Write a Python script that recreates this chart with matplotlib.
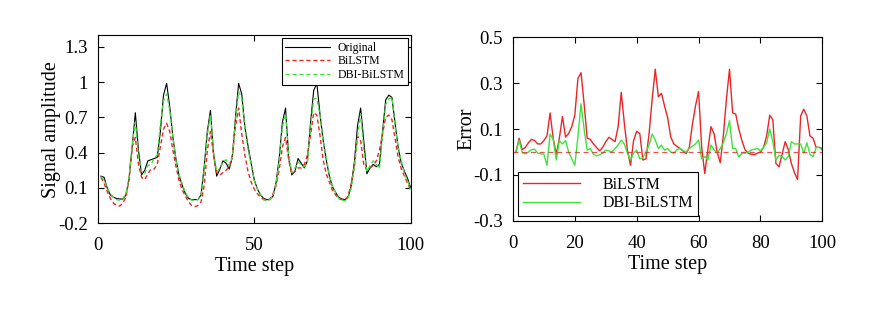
import matplotlib
matplotlib.use("Agg")
import matplotlib.pyplot as plt
import numpy as np

plt.rcParams["font.family"] = ["Liberation Serif", "DejaVu Serif"]
plt.rcParams["axes.unicode_minus"] = False

# %% Dane
steps = np.arange(1, 101)

original = [
    0.20, 0.19, 0.10, 0.04, 0.02, 0.01, 0.005, 0.005, 0.04, 0.18,
    0.45, 0.74, 0.42, 0.21, 0.25, 0.33, 0.34, 0.35, 0.36, 0.58,
    0.89, 0.99, 0.79, 0.53, 0.34, 0.20, 0.12, 0.05, 0.01, 0.0,
    0.0, 0.0, 0.04, 0.28, 0.58, 0.76, 0.39, 0.20, 0.26, 0.33,
    0.31, 0.26, 0.36, 0.70, 0.99, 0.90, 0.62, 0.46, 0.31, 0.17,
    0.09, 0.04, 0.01, 0.0, 0.0, 0.03, 0.15, 0.36, 0.66, 0.78,
    0.36, 0.21, 0.24, 0.35, 0.31, 0.27, 0.33, 0.66, 0.93, 0.99,
    0.73, 0.51, 0.34, 0.20, 0.11, 0.06, 0.02, 0.005, 0.0, 0.02,
    0.12, 0.32, 0.63, 0.78, 0.50, 0.22, 0.27, 0.30, 0.28, 0.30,
    0.58, 0.85, 0.89, 0.87, 0.65, 0.44, 0.31, 0.24, 0.18, 0.10,
]
bilstm = [
    0.19, 0.14, 0.07, 0.01, -0.03, -0.05, -0.055, -0.03, 0.02, 0.18,
    0.45, 0.53, 0.30, 0.19, 0.17, 0.22, 0.26, 0.26, 0.30, 0.45,
    0.60, 0.65, 0.58, 0.42, 0.28, 0.16, 0.08, 0.03, -0.02, -0.05,
    -0.06, -0.05, -0.02, 0.12, 0.42, 0.58, 0.38, 0.23, 0.21, 0.23,
    0.25, 0.28, 0.38, 0.62, 0.78, 0.56, 0.38, 0.24, 0.15, 0.09,
    0.05, 0.02, 0.0, -0.005, 0.005, 0.05, 0.12, 0.26, 0.45, 0.53,
    0.34, 0.22, 0.24, 0.27, 0.27, 0.30, 0.38, 0.55, 0.74, 0.72,
    0.55, 0.34, 0.22, 0.15, 0.08, 0.04, 0.01, 0.0, 0.0, 0.03,
    0.14, 0.28, 0.54, 0.50, 0.30, 0.25, 0.27, 0.29, 0.33, 0.42,
    0.56, 0.70, 0.72, 0.68, 0.52, 0.36, 0.26, 0.20, 0.14, 0.08,
]
dbi_bilstm = [
    0.195, 0.17, 0.10, 0.05, 0.02, 0.0, -0.005, 0.01, 0.05, 0.19,
    0.47, 0.66, 0.37, 0.24, 0.22, 0.29, 0.30, 0.35, 0.38, 0.64,
    0.84, 0.90, 0.76, 0.53, 0.33, 0.21, 0.13, 0.06, 0.015, -0.005,
    -0.005, 0.0, 0.03, 0.25, 0.55, 0.72, 0.40, 0.23, 0.27, 0.32,
    0.34, 0.29, 0.36, 0.67, 0.92, 0.86, 0.61, 0.43, 0.30, 0.16,
    0.09, 0.045, 0.0, -0.01, 0.0, 0.03, 0.14, 0.34, 0.62, 0.73,
    0.39, 0.23, 0.27, 0.32, 0.30, 0.28, 0.32, 0.62, 0.86, 0.86,
    0.72, 0.50, 0.36, 0.21, 0.11, 0.06, 0.01, -0.005, -0.01, 0.015,
    0.10, 0.28, 0.54, 0.73, 0.43, 0.24, 0.29, 0.33, 0.30, 0.26,
    0.55, 0.81, 0.86, 0.87, 0.62, 0.45, 0.33, 0.22, 0.16, 0.09,
]

err_bilstm = [
    0.00, 0.06, 0.01, 0.02, 0.04, 0.055, 0.05, 0.035, 0.035, 0.05,
    0.07, 0.17, 0.06, -0.01, 0.06, 0.155, 0.065, 0.08, 0.11, 0.16,
    0.32, 0.345, 0.21, 0.06, 0.055, 0.035, 0.02, 0.005, 0.02, 0.045,
    0.064, 0.055, 0.045, 0.11, 0.26, 0.125, 0.008, -0.058, 0.05, 0.09,
    0.08, -0.035, -0.03, 0.08, 0.23, 0.36, 0.24, 0.255, 0.20, 0.15,
    0.065, 0.035, 0.025, 0.015, 0.005, -0.007, 0.02, 0.12, 0.20, 0.263,
    0.02, -0.094, 0.01, 0.11, 0.08, 0.0, -0.047, 0.07, 0.23, 0.36,
    0.17, 0.165, 0.10, 0.05, 0.01, -0.005, -0.01, -0.012, -0.005, 0.0,
    0.02, 0.07, 0.16, 0.14, -0.05, -0.065, -0.01, 0.045, 0.01, -0.05,
    -0.09, -0.12, 0.157, 0.186, 0.157, 0.07, 0.06, 0.02, 0.02, 0.015,
]
err_dbi = [
    0.005, 0.05, -0.003, -0.008, 0.0, 0.01, 0.012, -0.005, -0.008, -0.01,
    -0.058, 0.078, 0.055, -0.035, 0.05, 0.035, 0.05, 0.0, -0.03, -0.058,
    0.066, 0.21, 0.10, 0.008, 0.015, -0.01, -0.017, -0.012, -0.005, 0.008,
    0.005, 0.0, 0.015, 0.03, 0.052, 0.035, -0.005, -0.035, -0.005, 0.008,
    -0.03, -0.025, 0.0, 0.03, 0.078, 0.052, 0.015, 0.03, 0.008, 0.015,
    0.0, -0.005, 0.01, 0.015, 0.005, 0.0, 0.015, 0.025, 0.035, 0.052,
    -0.03, -0.02, -0.035, 0.03, 0.01, -0.005, 0.015, 0.04, 0.08, 0.136,
    0.015, 0.015, -0.022, -0.005, -0.005, 0.0, 0.008, 0.012, 0.015, 0.005,
    0.02, 0.04, 0.10, 0.045, -0.035, -0.015, -0.02, -0.035, -0.02, 0.045,
    0.035, 0.035, 0.035, -0.005, 0.04, -0.01, -0.02, 0.02, 0.02, 0.008,
]

red = "#e8262a"
green = "#3ee23e"

# %% Wykres
fig = plt.figure(figsize=(8.89, 3.09), dpi=100)
ax1 = fig.add_axes([0.110, 0.278, 0.352, 0.608])
ax2 = fig.add_axes([0.577, 0.285, 0.348, 0.595])

ax1.plot(steps, original, color="black", lw=0.8, label="Original")
ax1.plot(steps, bilstm, color=red, lw=1.0, ls=(0, (3, 2)), label="BiLSTM")
ax1.plot(steps, dbi_bilstm, color=green, lw=1.0, ls=(0, (3, 2)), label="DBI-BiLSTM")
ax1.set_xlim(0, 100)
ax1.set_ylim(-0.2, 1.4)
ax1.set_xticks([0, 50, 100])
ax1.set_yticks([-0.2, 0.1, 0.4, 0.7, 1.0, 1.3])
ax1.set_yticklabels(["-0.2", "0.1", "0.4", "0.7", "1", "1.3"])
ax1.set_xlabel("Time step", fontsize=14.5, labelpad=2)
ax1.set_ylabel("Signal amplitude", fontsize=14.5, labelpad=-2)
leg1 = ax1.legend(loc="upper right", fontsize=8.5, fancybox=False, edgecolor="black",
                  framealpha=1, handlelength=3.8, handletextpad=0.6,
                  borderaxespad=0.25, labelspacing=0.15, borderpad=0.3)
leg1.get_frame().set_linewidth(0.8)

ax2.plot(steps, err_bilstm, color=red, lw=1.0, label="BiLSTM")
ax2.plot(steps, err_dbi, color=green, lw=1.0, label="DBI-BiLSTM")
ax2.axhline(0, color=red, lw=0.9, ls=(0, (4, 3)), alpha=0.8)
ax2.set_xlim(0, 100)
ax2.set_ylim(-0.3, 0.5)
ax2.set_xticks([0, 20, 40, 60, 80, 100])
ax2.set_yticks([-0.3, -0.1, 0.1, 0.3, 0.5])
ax2.set_yticklabels(["-0.3", "-0.1", "0.1", "0.3", "0.5"])
ax2.set_xlabel("Time step", fontsize=14.5, labelpad=2)
ax2.set_ylabel("Error", fontsize=14.5, labelpad=-2)
leg2 = ax2.legend(loc="lower left", fontsize=11.5, fancybox=False, edgecolor="black",
                  framealpha=1, handlelength=3.6, handletextpad=1.4,
                  borderaxespad=0.3, labelspacing=0.15, borderpad=0.3)
leg2.get_frame().set_linewidth(0.8)

for ax in (ax1, ax2):
    ax.tick_params(direction="in", top=True, right=True, labelsize=13.5, length=4,
                   width=0.8)
    ax.tick_params(axis="x", pad=10)
    ax.tick_params(axis="y", pad=7)
    for s in ax.spines.values():
        s.set_linewidth(0.8)

fig.savefig("out.png", dpi=100)
